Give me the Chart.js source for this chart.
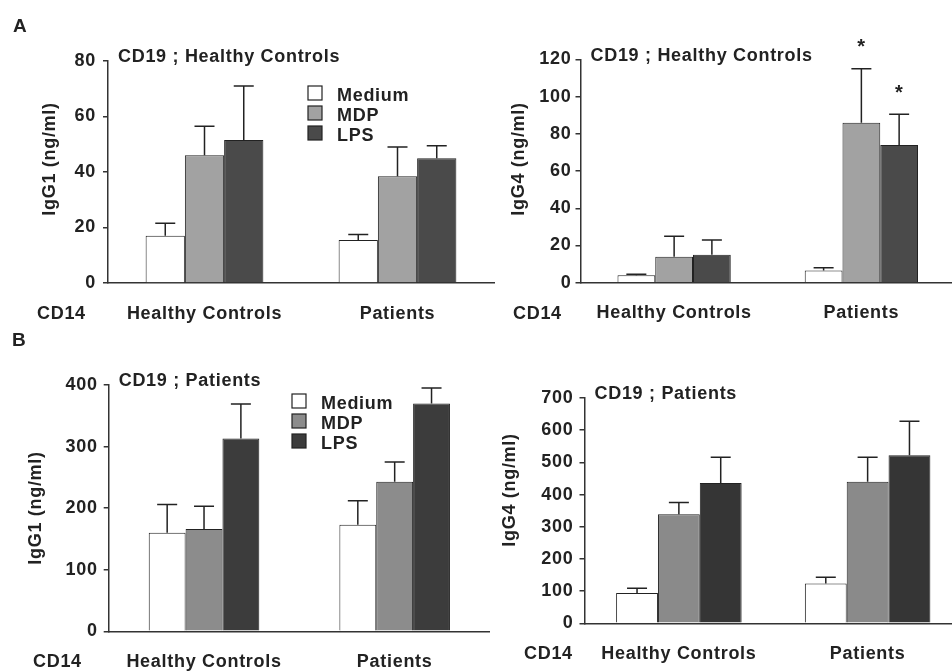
<!DOCTYPE html>
<html>
<head>
<meta charset="utf-8">
<script src="https://cdn.jsdelivr.net/npm/chart.js@4.4.1/dist/chart.umd.min.js"></script>
<style>
  html, body { margin: 0; padding: 0; background: #fff; width: 952px; height: 672px; overflow: hidden; }
  canvas { position: absolute; left: 0; top: 0; }
</style>
</head>
<body>
<canvas id="pA1"></canvas>
<canvas id="pA2"></canvas>
<canvas id="pB1"></canvas>
<canvas id="pB2"></canvas>
<script>
// CD14 monocyte groups on the x axis, stimulation conditions as series
const groups = ['Healthy Controls', 'Patients'];
const conditions = ['Medium', 'MDP', 'LPS'];

// A, left: IgG1 (ng/ml), CD19 cells from healthy controls
const a1Medium = [17, 15.5];
const a1MediumSD = [4.5, 2];
const a1MDP = [46, 38.5];
const a1MDPSD = [10.5, 10.5];
const a1LPS = [51.5, 45];
const a1LPSSD = [19.5, 4.5];
const a1Ticks = [0, 20, 40, 60, 80];

// A, right: IgG4 (ng/ml), CD19 cells from healthy controls
const a2Medium = [4, 6.5];
const a2MediumSD = [0.6, 1.6];
const a2MDP = [14, 86];
const a2MDPSD = [11, 29];
const a2LPS = [15, 74];
const a2LPSSD = [8, 16.5];
const a2MDPStar = [false, true];
const a2LPSStar = [false, true];
const a2Ticks = [0, 20, 40, 60, 80, 100, 120];

// B, left: IgG1 (ng/ml), CD19 cells from patients
const b1Medium = [160, 173];
const b1MediumSD = [46, 39];
const b1MDP = [166, 243];
const b1MDPSD = [37, 32];
const b1LPS = [313, 370];
const b1LPSSD = [56, 25];
const b1Ticks = [0, 100, 200, 300, 400];

// B, right: IgG4 (ng/ml), CD19 cells from patients
const b2Medium = [94, 124];
const b2MediumSD = [15, 19];
const b2MDP = [339, 440];
const b2MDPSD = [36, 76];
const b2LPS = [436, 522];
const b2LPSSD = [80, 106];
const b2Ticks = [0, 100, 200, 300, 400, 500, 600, 700];

const FONT = "'Liberation Sans', Arial, Helvetica, sans-serif";
const INK = '#222';
const CANVAS_W = 990, CANVAS_H = 672;
const Y_BOX = 60, X_BOX = 40;

// Slightly wider lettering for every text on the canvas
const spacing = {
  id: 'spacing',
  beforeDraw(chart) { chart.ctx.letterSpacing = '0.7px'; }
};

// Error bars, significance stars and panel texts drawn on top of the bars
const annotations = {
  id: 'annotations',
  afterDraw(chart, args, o) {
    const ctx = chart.ctx;
    const area = chart.chartArea;
    const yScale = chart.scales.y;
    ctx.save();
    ctx.letterSpacing = '0.7px';
    ctx.strokeStyle = INK;
    ctx.fillStyle = INK;
    ctx.lineWidth = 1.5;

    chart.data.datasets.forEach((ds, di) => {
      const meta = chart.getDatasetMeta(di);
      const sd = o.sd[di];
      const stars = o.stars ? o.stars[di] : null;
      meta.data.forEach((bar, i) => {
        const yBar = yScale.getPixelForValue(ds.data[i]);
        const yTop = yScale.getPixelForValue(ds.data[i] + sd[i]);
        ctx.beginPath();
        ctx.moveTo(bar.x, yBar);
        ctx.lineTo(bar.x, yTop);
        ctx.moveTo(bar.x - 10, yTop);
        ctx.lineTo(bar.x + 10, yTop);
        ctx.stroke();
        if (stars && stars[i]) {
          ctx.font = 'bold 20px ' + FONT;
          ctx.textAlign = 'center';
          ctx.textBaseline = 'middle';
          ctx.fillText('*', bar.x, yTop - 21);
        }
      });
    });

    ctx.textAlign = 'left';
    ctx.textBaseline = 'alphabetic';
    ctx.font = 'bold 18px ' + FONT;
    ctx.fillText(o.title, area.left + 10, area.top + 1);
    ctx.fillText('CD14', o.cd14X, area.bottom + 36);

    // rotated y-axis title
    ctx.save();
    ctx.translate(o.yTitle.x, o.yTitle.y);
    ctx.rotate(-Math.PI / 2);
    ctx.textAlign = 'center';
    ctx.textBaseline = 'middle';
    ctx.fillText(o.yTitle.text, 0, 0);
    ctx.restore();

    if (o.letter) {
      ctx.font = 'bold 19px ' + FONT;
      ctx.fillText(o.letter.text, o.letter.x, o.letter.y);
    }

    if (o.legend) {
      ctx.font = 'bold 18px ' + FONT;
      ctx.textBaseline = 'middle';
      chart.data.datasets.forEach((ds, di) => {
        const rowY = o.legend.y + di * 20;
        ctx.fillStyle = ds.backgroundColor;
        ctx.fillRect(o.legend.x, rowY - 7, 14, 14);
        ctx.lineWidth = 1.2;
        ctx.strokeStyle = INK;
        ctx.strokeRect(o.legend.x, rowY - 7, 14, 14);
        ctx.fillStyle = INK;
        ctx.fillText(ds.label, o.legend.x + 29, rowY + 3);
      });
    }
    ctx.restore();
  }
};

function makePanel(id, p) {
  const canvas = document.getElementById(id);
  canvas.width = CANVAS_W;
  canvas.height = CANVAS_H;
  canvas.style.width = CANVAS_W + 'px';
  canvas.style.height = CANVAS_H + 'px';
  const series = [p.medium, p.mdp, p.lps];
  const fills = ['#ffffff', p.mdpColor, p.lpsColor];
  return new Chart(canvas, {
    type: 'bar',
    data: {
      labels: groups,
      datasets: conditions.map((c, k) => ({
        label: c,
        data: series[k],
        backgroundColor: fills[k],
        borderColor: INK,
        borderWidth: 1,
        categoryPercentage: p.catPct,
        barPercentage: 1
      }))
    },
    options: {
      responsive: false,
      animation: false,
      events: [],
      layout: {
        padding: {
          left: p.area.l - Y_BOX,
          top: p.area.t,
          right: CANVAS_W - p.area.r,
          bottom: CANVAS_H - p.area.b - X_BOX
        }
      },
      plugins: {
        legend: { display: false },
        tooltip: { enabled: false },
        annotations: {
          sd: [p.mediumSD, p.mdpSD, p.lpsSD],
          stars: p.stars || null,
          title: p.title,
          cd14X: p.cd14X,
          yTitle: p.yTitle,
          letter: p.letter || null,
          legend: p.legend || null
        }
      },
      scales: {
        x: {
          type: 'category',
          offset: true,
          grid: { display: false, drawTicks: false },
          border: { display: true, color: '#333', width: 1.5 },
          ticks: { color: INK, font: { family: FONT, size: 18, weight: 'bold' }, padding: 20, maxRotation: 0 },
          afterFit: s => { s.height = X_BOX; }
        },
        y: {
          min: 0,
          max: p.ticks[p.ticks.length - 1],
          afterBuildTicks: s => { s.ticks = p.ticks.map(v => ({ value: v })); },
          grid: { drawOnChartArea: false, drawTicks: true, tickLength: 5, color: '#333', lineWidth: 1.5 },
          border: { display: true, color: '#333', width: 1.5 },
          ticks: { color: INK, font: { family: FONT, size: 18, weight: 'bold' }, padding: p.tickPad },
          afterFit: s => { s.width = Y_BOX; }
        }
      }
    },
    plugins: [spacing, annotations]
  });
}

makePanel('pA1', {
  medium: a1Medium, mediumSD: a1MediumSD, mdp: a1MDP, mdpSD: a1MDPSD, lps: a1LPS, lpsSD: a1LPSSD,
  ticks: a1Ticks, mdpColor: '#a2a2a2', lpsColor: '#4a4a4a',
  area: { l: 108, r: 494, t: 61, b: 283 }, catPct: 0.61, tickPad: 7,
  title: 'CD19 ; Healthy Controls', cd14X: 37,
  yTitle: { text: 'IgG1 (ng/ml)', x: 50, y: 159 },
  letter: { text: 'A', x: 13, y: 32 },
  legend: { x: 308, y: 93 }
});

makePanel('pA2', {
  medium: a2Medium, mediumSD: a2MediumSD, mdp: a2MDP, mdpSD: a2MDPSD, lps: a2LPS, lpsSD: a2LPSSD,
  stars: [[false, false], a2MDPStar, a2LPSStar],
  ticks: a2Ticks, mdpColor: '#a2a2a2', lpsColor: '#4a4a4a',
  area: { l: 580.5, r: 955, t: 59.5, b: 282.7 }, catPct: 0.605, tickPad: 4,
  title: 'CD19 ; Healthy Controls', cd14X: 513,
  yTitle: { text: 'IgG4 (ng/ml)', x: 519, y: 159 }
});

makePanel('pB1', {
  medium: b1Medium, mediumSD: b1MediumSD, mdp: b1MDP, mdpSD: b1MDPSD, lps: b1LPS, lpsSD: b1LPSSD,
  ticks: b1Ticks, mdpColor: '#8c8c8c', lpsColor: '#3c3c3c',
  area: { l: 108.7, r: 490, t: 385, b: 631.3 }, catPct: 0.58, tickPad: 6,
  title: 'CD19 ; Patients', cd14X: 33,
  yTitle: { text: 'IgG1 (ng/ml)', x: 36, y: 508 },
  letter: { text: 'B', x: 12, y: 346 },
  legend: { x: 292, y: 401 }
});

makePanel('pB2', {
  medium: b2Medium, mediumSD: b2MediumSD, mdp: b2MDP, mdpSD: b2MDPSD, lps: b2LPS, lpsSD: b2LPSSD,
  ticks: b2Ticks, mdpColor: '#8a8a8a', lpsColor: '#353535',
  area: { l: 584.5, r: 962, t: 398, b: 623.3 }, catPct: 0.665, tickPad: 6,
  title: 'CD19 ; Patients', cd14X: 524,
  yTitle: { text: 'IgG4 (ng/ml)', x: 510, y: 490 }
});
</script>
</body>
</html>
